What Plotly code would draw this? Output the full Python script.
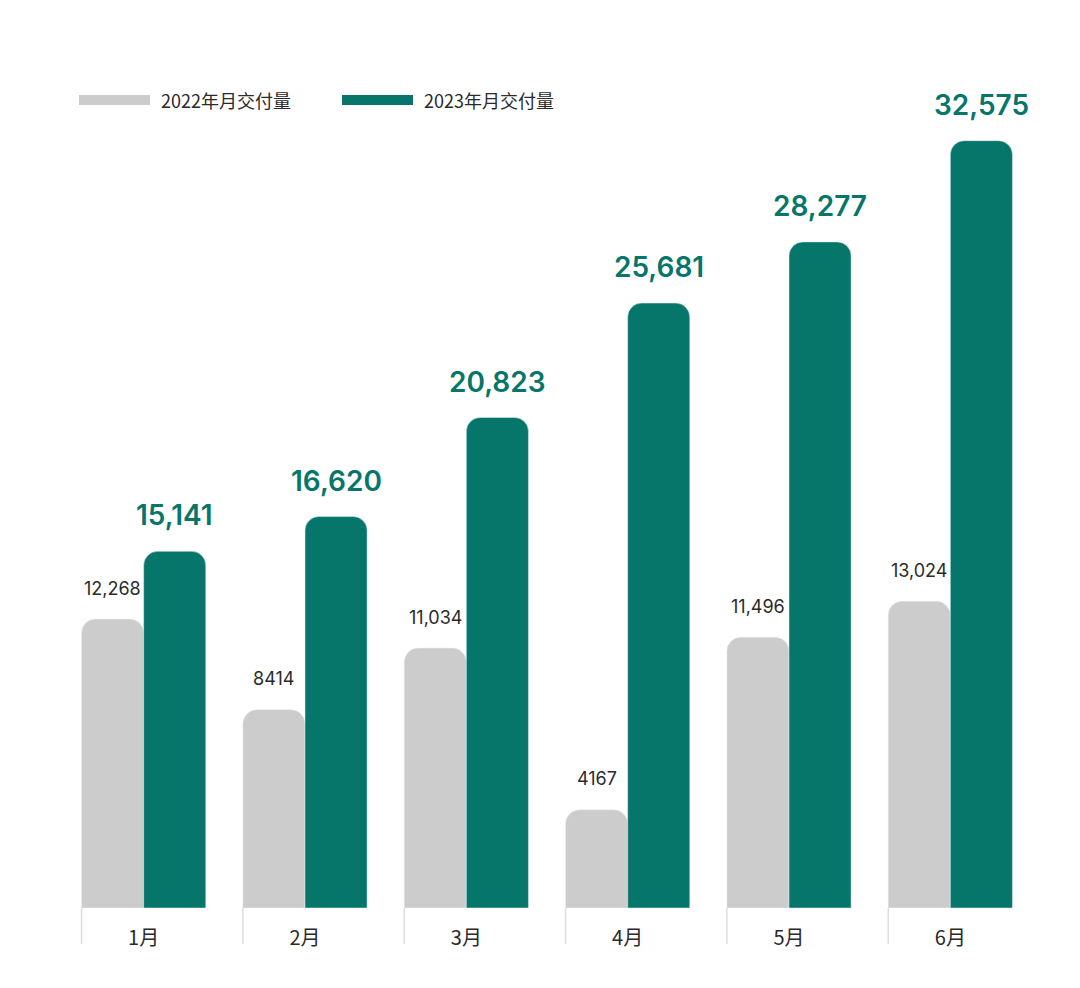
import plotly.graph_objects as go

months = ['1月', '2月', '3月', '4月', '5月', '6月']
sales_2022 = [12268, 8414, 11034, 4167, 11496, 13024]
sales_2023 = [15141, 16620, 20823, 25681, 28277, 32575]
name_2022 = '2022年月交付量'
name_2023 = '2023年月交付量'

gray = '#cccccc'
green = '#07766a'
font = 'Noto Sans CJK SC'
num_font = 'Inter, Noto Sans CJK SC'

# page has an 8px body margin, so figure coords = screen coords - 8
W, H = 1080, 988
pad = 8
ml, mr, mt, mb = 55, 57, 52, 88
bargap = 0.23

def fmt(v):
    return f'{v:,}' if v >= 10000 else str(v)

def px_x(p):
    return (p - pad - ml) / (W - ml - mr)

def px_y(p):
    return (H - mb - (p - pad)) / (H - mt - mb)

fig = go.Figure()
fig.add_trace(go.Bar(x=months, y=sales_2022, name=name_2022,
                     marker_color=gray, showlegend=False))
fig.add_trace(go.Bar(x=months, y=sales_2023, name=name_2023,
                     marker_color=green, showlegend=False))

# value labels
band = (W - ml - mr) / len(months)
off = band * (1 - bargap) / 4
for m, a, b in zip(months, sales_2022, sales_2023):
    fig.add_annotation(x=m, y=a, text=fmt(a), showarrow=False, xshift=-off,
                       yanchor='middle', yshift=31,
                       font=dict(family=num_font, size=18, color='#2a2a2a'))
    fig.add_annotation(x=m, y=b, text=fmt(b), showarrow=False, xshift=off,
                       yanchor='middle', yshift=36,
                       font=dict(family=num_font, size=28, color=green, weight=600))

# separators under the axis
for i in range(len(months)):
    fig.add_shape(type='line', xref='x', yref='paper',
                  x0=i - 0.5 + bargap / 2, x1=i - 0.5 + bargap / 2,
                  y0=0, y1=px_y(944),
                  line=dict(color='#dddddd', width=1.5))

# legend drawn by hand (wide swatches)
for name, col, x0 in [(name_2022, gray, 79), (name_2023, green, 342)]:
    fig.add_shape(type='rect', xref='paper', yref='paper',
                  x0=px_x(x0), x1=px_x(x0 + 71), y0=px_y(105), y1=px_y(95),
                  fillcolor=col, line_width=0)
    fig.add_annotation(xref='paper', yref='paper', x=px_x(x0 + 80), y=px_y(100),
                       text=name, showarrow=False, xanchor='left', yanchor='middle',
                       font=dict(family=font, size=18, color='#2a2a2a'))

fig.update_layout(
    width=W, height=H,
    margin=dict(l=ml, r=mr, t=mt, b=mb),
    plot_bgcolor='white', paper_bgcolor='white',
    barmode='group', bargap=bargap, bargroupgap=0,
    barcornerradius=14,
    font=dict(family=font),
)
fig.update_xaxes(showgrid=False, showline=False, zeroline=False,
                 ticks='outside', ticklen=12, tickcolor='white',
                 tickfont=dict(family=font, size=20, color='#2a2a2a'))
fig.update_yaxes(visible=False, range=[0, 36000])

fig.write_html('out.html')
